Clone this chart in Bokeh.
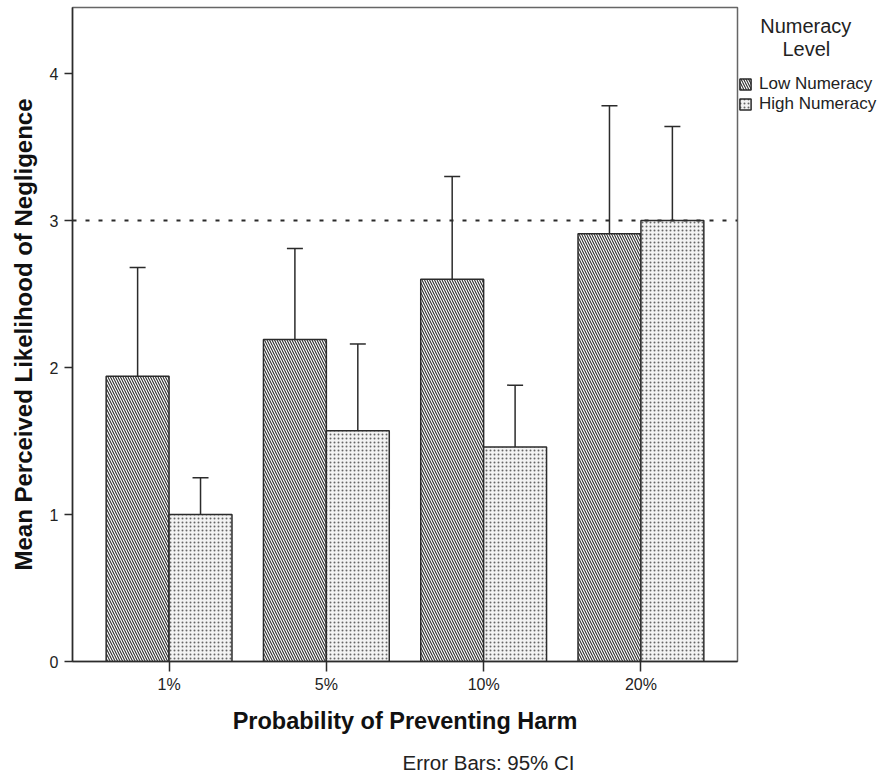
from bokeh.plotting import figure
from bokeh.models import (ColumnDataSource, FactorRange, Range1d, Whisker, TeeHead,
                          Span, Legend, LegendItem, FixedTicker, Title)
from bokeh.transform import dodge
from bokeh.embed import file_html
from bokeh.resources import INLINE

# ---- data ----
categories = ["1%", "5%", "10%", "20%"]
low_mean = [1.94, 2.19, 2.60, 2.91]
low_lower = [1.20, 1.57, 1.90, 2.03]
low_upper = [2.68, 2.81, 3.30, 3.78]
high_mean = [1.00, 1.57, 1.46, 3.00]
high_lower = [0.76, 0.97, 1.03, 2.36]
high_upper = [1.25, 2.16, 1.88, 3.64]
y_ticks = [0, 1, 2, 3, 4]
reference_line = 3
series_names = ["Low Numeracy", "High Numeracy"]
legend_title = ["Numeracy", "Level"]

FONT = "Liberation Sans"
DARK = "#2b2b2b"
NB = "\u00a0"

LOW_STYLE = dict(fill_color="white", line_color=DARK, line_width=1.5,
                 hatch_pattern="left_diagonal_line", hatch_scale=5, hatch_weight=1.1,
                 hatch_color="#2e2e2e")
HIGH_STYLE = dict(fill_color="#f3f3f3", line_color=DARK, line_width=1.5,
                  hatch_pattern="dot", hatch_scale=4, hatch_weight=1.6,
                  hatch_color="#666666")

src = ColumnDataSource(dict(cat=categories,
                            low=low_mean, low_lo=low_lower, low_hi=low_upper,
                            high=high_mean, high_lo=high_lower, high_hi=high_upper))

p = figure(frame_width=665, frame_height=654, output_backend="svg", toolbar_location=None,
           x_range=FactorRange(*categories, range_padding=0.114, range_padding_units="absolute"),
           y_range=Range1d(0, 4.449),
           min_border_left=72, min_border_right=144, min_border_top=7, min_border_bottom=121)
p.title.visible = False
p.outline_line_color = "#666666"
p.outline_line_width = 1.5
p.xgrid.visible = False
p.ygrid.visible = False

r_low = p.vbar(x=dodge("cat", -0.2, range=p.x_range), top="low", width=0.4, source=src, **LOW_STYLE)
r_high = p.vbar(x=dodge("cat", 0.2, range=p.x_range), top="high", width=0.4, source=src, **HIGH_STYLE)

for off, lo, hi in [(-0.2, "low_lo", "low_hi"), (0.2, "high_lo", "high_hi")]:
    w = Whisker(base=dodge("cat", off, range=p.x_range), lower=lo, upper=hi, source=src,
                line_color=DARK, line_width=1.5,
                upper_head=TeeHead(size=16, line_color=DARK, line_width=1.5),
                lower_head=TeeHead(size=16, line_color=DARK, line_width=1.5))
    p.add_layout(w)

p.add_layout(Span(location=reference_line, dimension="width", line_color=DARK,
                  line_width=2, line_dash="4 9"))

# axes
p.yaxis.ticker = FixedTicker(ticks=y_ticks)
p.yaxis.minor_tick_line_color = None
p.yaxis.major_tick_in = 0
p.yaxis.major_tick_out = 8
p.yaxis.major_label_standoff = 6
p.xaxis.major_tick_in = 0
p.xaxis.major_tick_out = 10
p.xaxis.major_label_standoff = 4
for ax in (p.xaxis, p.yaxis):
    ax.axis_line_color = DARK
    ax.axis_line_width = 1.5
    ax.major_tick_line_color = DARK
    ax.major_tick_line_width = 1.5
    ax.major_label_text_font = FONT
    ax.major_label_text_font_size = "16px"
    ax.major_label_text_color = "#222222"
    ax.axis_label_text_font = FONT
    ax.axis_label_text_font_style = "bold"
    ax.axis_label_text_color = "#111111"
p.xaxis.axis_label = "Probability of Preventing Harm"
p.yaxis.axis_label = "Mean Perceived Likelihood of Negligence"
p.xaxis.axis_label_text_font_size = "23.5px"
p.yaxis.axis_label_text_font_size = "24px"
p.xaxis.axis_label_standoff = 12
p.yaxis.axis_label_standoff = 10

p.add_layout(Title(text="Error Bars: 95% CI", align="left", offset=330, standoff=24,
                   text_font=FONT, text_font_style="normal", text_font_size="20.5px",
                   text_color="#222222"), "below")

legend = Legend(items=[LegendItem(label=series_names[0], renderers=[r_low]),
                       LegendItem(label=series_names[1], renderers=[r_high])],
                title=NB * 4 + legend_title[0] + "\n" + NB * 8 + legend_title[1],
                title_text_font=FONT, title_text_font_size="20px",
                title_text_font_style="normal", title_text_line_height=0.85,
                title_text_color="#222222", title_standoff=13,
                location=(1, 547), padding=0, margin=0, spacing=0,
                glyph_width=14, glyph_height=14, label_height=20, label_standoff=7,
                label_text_font=FONT, label_text_font_size="17px", label_text_color="#222222",
                border_line_color=None, background_fill_alpha=0)
p.add_layout(legend, "right")

open("out.html", "w").write(file_html(p, INLINE))
